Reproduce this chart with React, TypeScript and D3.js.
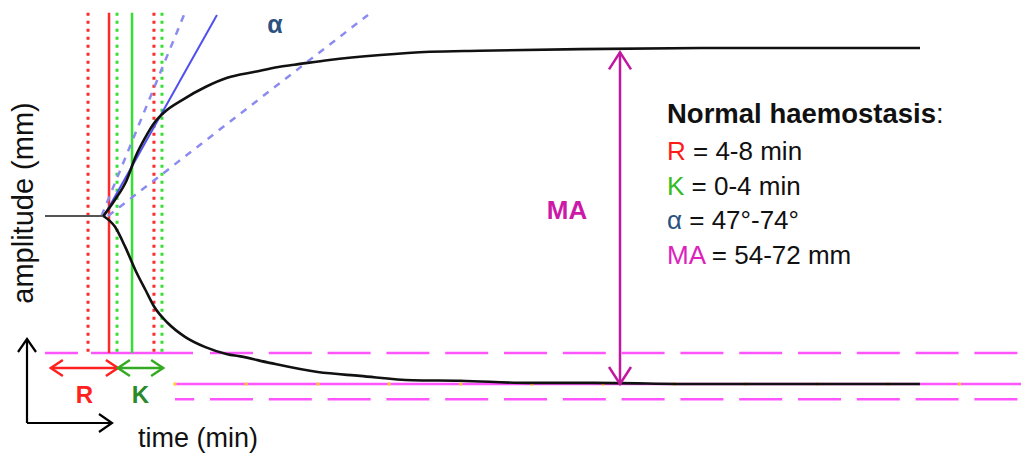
import React from "react";
import * as d3 from "d3";

// ---- data (time in min, amplitude in mm) ----
const baselineTime = [0, 4];
const baselineAmp = [0, 0];
const upperTime = [4, 4.8, 5.6, 6.2, 6.9, 7.5, 8.2, 9.4, 11, 12.5, 14.4, 16, 17.1, 19.5, 23, 26.4, 29.8, 36.7, 45, 60];
const upperAmp = [0, 3.0, 6.6, 10.9, 14.6, 17.2, 19.2, 21.4, 23.8, 25.5, 26.6, 27.5, 27.9, 28.8, 29.7, 30.3, 30.5, 30.8, 31, 31];
const lowerTime = [4, 4.8, 5.5, 6.2, 6.9, 7.5, 8.4, 9.6, 11, 12.5, 13.4, 15.4, 18.7, 21.6, 25.2, 28.5, 33.1, 37.6, 44.9, 60];
const lowerAmp = [0, -2.0, -5.7, -10.0, -13.7, -16.8, -19.7, -22.3, -24.2, -25.5, -25.9, -27.1, -28.8, -29.5, -30.3, -30.4, -30.8, -30.8, -31, -31];

// vertical markers (R / K limits)
const markerTimes = [2.95, 4.39, 4.94, 5.97, 7.47, 8.02];
const markerKinds = ["rDot", "rSolid", "gDot", "gSolid", "rDot", "gDot"];
const markerTop = 37.5;
const markerBottom = -25.3;

// alpha tangent lines
const alphaStart = [3.87, 4.05, 4.32];
const alphaEnd = [9.53, 11.79, 22.15];
const alphaTopAmp = 37.1;
const alphaKinds = ["dash", "solid", "dash"];

// MA reference lines (amplitude)
const maDashedUpper = -25.3;
const maSolid = -31;
const maDashedLower = -33.8;
const gridDotTimes = [8.91, 13.8, 18.72, 23.6, 28.5, 33.4, 38.27, 43.15, 48.04, 52.9, 57.8, 62.7];
const maTop = 30.2;
const maBottom = -31;

// arrows R and K (time)
const rArrow = [0.4, 5.0];
const kArrow = [5.0, 8.1];

const legendLines = [
  { key: "R", color: "#ff1a1a", rest: " = 4-8 min" },
  { key: "K", color: "#33bb22", rest: " = 0-4 min" },
  { key: "α", color: "#2b5180", rest: " = 47°-74°" },
  { key: "MA", color: "#dd22bb", rest: " = 54-72 mm" },
];

const W = 1021;
const H = 456;
const FONT = "'Liberation Sans', Arial, Helvetica, sans-serif";

export default function App() {
  const x = d3.scaleLinear().domain([0, 60]).range([45, 920]);
  const y = d3.scaleLinear().domain([-31, 31]).range([384, 48]);
  const line = d3
    .line<[number, number]>()
    .x((d) => x(d[0]))
    .y((d) => y(d[1]))
    .curve(d3.curveMonotoneX);
  const zip = (a: number[], b: number[]) => a.map((v, i) => [v, b[i]] as [number, number]);

  const magenta = "#ff55ff";
  const dashP = "43,15.8";
  const period = 58.8;
  const phase = (x0: number) => period - (((210 - x0) % period) + period) % period;

  const chevron = (tx: number, ty: number, dx: number, dy: number, size: number, wing: number) => {
    const bx = tx - dx * size;
    const by = ty - dy * size;
    const px = -dy * wing;
    const py = dx * wing;
    return `M${bx + px},${by + py}L${tx},${ty}L${bx - px},${by - py}`;
  };

  const rY = 368;
  return (
    <svg
      width={W}
      height={H}
      viewBox={`0 0 ${W} ${H}`}
      style={{ position: "absolute", left: 0, top: 0, background: "#fff" }}
      fontFamily={FONT}
    >
      <rect width={W} height={H} fill="#fff" />

      {/* magenta MA reference lines */}
      <line x1={45} x2={78} y1={y(maDashedUpper)} y2={y(maDashedUpper)} stroke={magenta} strokeWidth={2.5} />
      <line x1={91} x2={193} y1={y(maDashedUpper)} y2={y(maDashedUpper)} stroke={magenta} strokeWidth={2.5} />
      <line x1={210} x2={W} y1={y(maDashedUpper)} y2={y(maDashedUpper)} stroke={magenta} strokeWidth={2.5} strokeDasharray={dashP} />
      <line x1={175} x2={W} y1={y(maDashedLower)} y2={y(maDashedLower)} stroke={magenta} strokeWidth={2.5} strokeDasharray={dashP} strokeDashoffset={phase(175)} />
      <line x1={175} x2={W} y1={y(maSolid)} y2={y(maSolid)} stroke={magenta} strokeWidth={2.5} />
      {gridDotTimes.map((t, i) => (
        <circle key={i} cx={x(t)} cy={y(maSolid)} r={1.8} fill="#ffcc33" />
      ))}

      {/* vertical R/K markers */}
      {markerTimes.map((t, i) => {
        const k = markerKinds[i];
        const col = k[0] === "r" ? "#ff2a2a" : "#33e033";
        const dotted = k.endsWith("Dot");
        return (
          <line
            key={i}
            x1={x(t)}
            x2={x(t)}
            y1={y(markerTop)}
            y2={y(markerBottom)}
            stroke={col}
            strokeWidth={dotted ? 3 : 2.5}
            strokeDasharray={dotted ? "3,5" : undefined}
          />
        );
      })}

      {/* alpha tangent lines */}
      {alphaStart.map((t0, i) => (
        <line
          key={i}
          x1={x(t0)}
          y1={y(0)}
          x2={x(alphaEnd[i])}
          y2={y(alphaTopAmp)}
          stroke={alphaKinds[i] === "solid" ? "#5050ee" : "#8c8cf0"}
          strokeWidth={alphaKinds[i] === "solid" ? 2 : 2.5}
          strokeDasharray={alphaKinds[i] === "solid" ? undefined : "7,7"}
        />
      ))}

      {/* TEG trace */}
      <path d={line(zip(baselineTime, baselineAmp)) || ""} fill="none" stroke="#555" strokeWidth={2} />
      <path d={line(zip(upperTime, upperAmp)) || ""} fill="none" stroke="#111" strokeWidth={2.6} />
      <path d={line(zip(lowerTime, lowerAmp)) || ""} fill="none" stroke="#111" strokeWidth={2.6} />

      {/* alpha label */}
      <text x={275} y={33} textAnchor="middle" fill="#2b5180" fontSize={25} fontWeight="bold">
        α
      </text>

      {/* MA arrow */}
      <g stroke="#c0189e" strokeWidth={2.5} fill="none">
        <line x1={620} x2={620} y1={y(maTop)} y2={y(maBottom)} />
        <path d={chevron(620, y(maTop), 0, -1, 17, 11)} />
        <path d={chevron(620, y(maBottom), 0, 1, 17, 11)} />
      </g>
      <text x={567} y={219} textAnchor="middle" fill="#cc1aa8" fontSize={26} fontWeight="bold">
        MA
      </text>

      {/* legend */}
      <text x={667} y={123} fontSize={27.5} fontWeight="bold" fill="#111">
        Normal haemostasis<tspan fontWeight="normal">:</tspan>
      </text>
      {legendLines.map((l, i) => (
        <text key={l.key} x={667} y={160 + i * 34.5} fontSize={26} fill="#111">
          <tspan fill={l.color}>{l.key}</tspan>
          {l.rest}
        </text>
      ))}

      {/* R / K arrows */}
      <g stroke="#ff2020" strokeWidth={2.5} fill="none">
        <line x1={x(rArrow[0])} x2={x(rArrow[1])} y1={rY} y2={rY} />
        <path d={chevron(x(rArrow[0]), rY, -1, 0, 12, 8)} />
        <path d={chevron(x(rArrow[1]), rY, 1, 0, 12, 8)} />
      </g>
      <g stroke="#33aa22" strokeWidth={2.5} fill="none">
        <line x1={x(kArrow[0])} x2={x(kArrow[1])} y1={rY} y2={rY} />
        <path d={chevron(x(kArrow[0]), rY, -1, 0, 12, 8)} />
        <path d={chevron(x(kArrow[1]), rY, 1, 0, 12, 8)} />
      </g>
      <text x={(x(rArrow[0]) + x(rArrow[1])) / 2} y={403} textAnchor="middle" fill="#ff2020" fontSize={24} fontWeight="bold">
        R
      </text>
      <text x={(x(kArrow[0]) + x(kArrow[1])) / 2} y={403} textAnchor="middle" fill="#2a8a2a" fontSize={24} fontWeight="bold">
        K
      </text>

      {/* axes arrows */}
      <g stroke="#000" strokeWidth={2.2} fill="none">
        <line x1={27} x2={27} y1={423} y2={339} />
        <path d={chevron(27, 339, 0, -1, 13, 9)} />
        <line x1={27} x2={112} y1={423} y2={423} />
        <path d={chevron(112, 423, 1, 0, 13, 9)} />
      </g>
      <text x={138} y={447} fontSize={27} fill="#111">
        time (min)
      </text>
      <text transform="translate(33,203) rotate(-90)" textAnchor="middle" fontSize={29} fill="#111">
        amplitude (mm)
      </text>
    </svg>
  );
}
